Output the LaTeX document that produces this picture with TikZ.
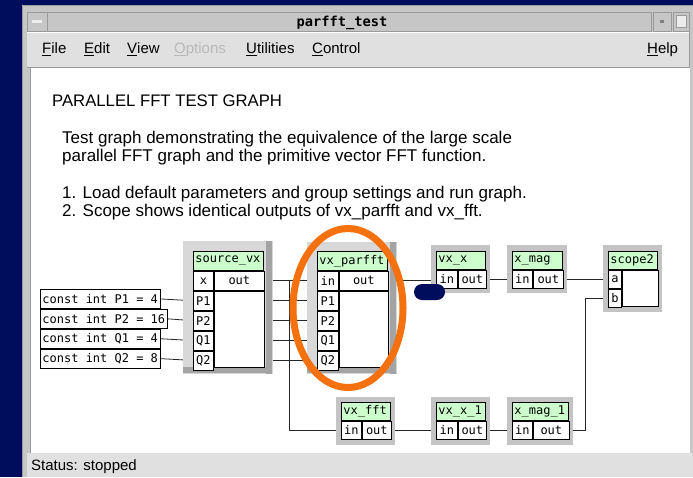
\documentclass[tikz,border=0pt]{standalone}
\usepackage{fontspec}
\setmainfont{Liberation Sans}
\newfontfamily\monofont{DejaVu Sans Mono}
\protected\def\cellfont{\monofont\fontsize{12}{12}\selectfont}
\usetikzlibrary{positioning}
\pgfdeclarelayer{desk}
\pgfdeclarelayer{background}
\pgfsetlayers{desk,background,main}

\definecolor{deskblue}{HTML}{000C5C}
\definecolor{wingray}{HTML}{E0E0E0}
\definecolor{bargray}{HTML}{C6C6C6}
\definecolor{edgegray}{HTML}{9A9A9A}
\definecolor{boxgreen}{HTML}{CCFFCC}
\definecolor{framelight}{HTML}{D8D8D8}
\definecolor{framedark}{HTML}{A4A4A4}
\definecolor{framemid}{HTML}{C4C4C4}
\definecolor{ringorange}{HTML}{F5700F}

\tikzset{
  blockframe/.style={fill=framemid, inner sep=0pt, anchor=north west},
  bevelframe/.style={fill=framelight, inner sep=0pt, anchor=north west, path picture={
      \fill[framedark] ([xshift=-7pt]path picture bounding box.north east) rectangle ([xshift=-1.5pt]path picture bounding box.south east);
      \fill[framedark] ([yshift=7pt]path picture bounding box.south west) rectangle ([xshift=-1.5pt, yshift=1.5pt]path picture bounding box.south east);}},
  cell/.style={draw=black, fill=white, line width=0.9pt, inner sep=0pt, anchor=north west,
      font=\cellfont, minimum height=19pt, execute at begin node={\spaceskip=7.2pt\relax}},
  small/.style={minimum height=18pt},
  boxtitle/.style={cell, fill=boxgreen, align=left, inner xsep=2pt},
  constbox/.style={cell, align=left, inner xsep=2pt},
  wire/.style={draw=black!85, line width=0.8pt},
  menu/.style={anchor=base west, inner sep=0pt, font=\fontsize{15}{15}\selectfont},
  notetext/.style={anchor=base west, inner sep=0pt, font=\fontsize{17}{17}\selectfont}
}

\begin{document}
\begin{tikzpicture}[x=1pt, y=-1pt]
    \useasboundingbox (0,0) rectangle (693,477);

    \begin{pgfonlayer}{desk}
    % Desktop and window
    \fill[deskblue] (0,0) rectangle (693,477);
    \fill[bargray] (22,5) rectangle (693,477);
    \draw[edgegray] (22.5,5.5) -- (693,5.5);
    \draw[edgegray] (22.5,5.5) -- (22.5,477);

    % Title bar
    \draw[edgegray, fill=bargray] (27,12) rectangle (47,31);
    \fill[white!85!gray] (32,20) rectangle (42,23);
    \draw[edgegray, fill=bargray] (47,12) rectangle (651,31);
    \draw[edgegray, fill=bargray] (653,12) rectangle (671,31);
    \fill[gray] (660,20) rectangle (664,23);
    \draw[edgegray, fill=bargray] (673,12) rectangle (689,31);
    \draw[edgegray, fill=white!85!gray] (676,15) rectangle (686,27);

    % Menu bar
    \fill[wingray] (27,32) rectangle (690,67);
    \draw[white] (27,32.5) -- (690,32.5);
    \draw[edgegray] (689.5,32) -- (689.5,67) -- (27,67);

    % Canvas
    \fill[white] (30,68) rectangle (690,453);
    \draw[edgegray] (30,68) -- (30,453);
    \draw[gray!40, dotted] (690,68) -- (690,453);

    % Status bar
    \fill[wingray] (27,453) rectangle (693,477);
    \end{pgfonlayer}

    % Window texts
    \node[inner sep=0pt, anchor=base, font=\monofont\bfseries\fontsize{13.7}{13.7}\selectfont] (wintitle) at (342,26) {parfft\_test};
    \node[menu] (m-file) at (42,53.5) {\underline{F}ile};
    \node[menu] (m-edit) at (84,53.5) {\underline{E}dit};
    \node[menu] (m-view) at (127,53.5) {\underline{V}iew};
    \node[menu, text=gray!55] (m-options) at (174,53.5) {\underline{O}ptions};
    \node[menu] (m-utils) at (246,53.5) {\underline{U}tilities};
    \node[menu] (m-control) at (312,53.5) {\underline{C}ontrol};
    \node[menu] (m-help) at (647,53.5) {\underline{H}elp};
    \node[menu] (status) at (31,470) {Status: stopped};

    % Description
    \node[notetext, font=\fontsize{16.7}{16.7}\selectfont] (heading) at (52,106) {PARALLEL FFT TEST GRAPH};
    \node[notetext] (line1) at (62,143.5) {Test graph demonstrating the equivalence of the large scale};
    \node[notetext] (line2) at (62,161.5) {parallel FFT graph and the primitive vector FFT function.};
    \node[notetext] (line3) at (62,198.5) {1. Load default parameters and group settings and run graph.};
    \node[notetext] (line4) at (62,216.5) {2. Scope shows identical outputs of vx\_parfft and vx\_fft.};

    % Constants
    \node[constbox, text width=116pt] (cP1) at (40,289) {const int P1 = 4};
    \node[constbox, text width=123pt] (cP2) at (cP1.south west) {const int P2 = 16};
    \node[constbox, text width=116pt] (cQ1) at (cP2.south west) {const int Q1 = 4};
    \node[constbox, text width=116pt] (cQ2) at (cQ1.south west) {const int Q2 = 8};

    % source_vx
    \node[bevelframe, minimum width=90pt, minimum height=133pt] (src-f) at (183,241) {};
    \node[boxtitle, text width=66pt] (src-t) at (193,251) {source\_vx};
    \node[cell, minimum width=20pt] (src-x) at (src-t.south west) {x};
    \node[cell, minimum width=50pt] (src-out) at (src-x.north east) {out};
    \node[cell, minimum width=20pt] (src-P1) at (src-x.south west) {P1};
    \node[cell, minimum width=20pt] (src-P2) at (src-P1.south west) {P2};
    \node[cell, minimum width=20pt] (src-Q1) at (src-P2.south west) {Q1};
    \node[cell, minimum width=20pt] (src-Q2) at (src-Q1.south west) {Q2};
    \node[cell, minimum width=50pt, minimum height=76pt] (src-body) at (src-P1.north east) {};

    % vx_parfft
    \node[bevelframe, minimum width=90pt, minimum height=132pt] (par-f) at (307,242) {};
    \node[boxtitle, text width=66pt] (par-t) at (317,251) {vx\_parfft};
    \node[cell, minimum width=21pt] (par-in) at (par-t.south west) {in};
    \node[cell, minimum width=49pt] (par-out) at (par-in.north east) {out};
    \node[cell, minimum width=21pt] (par-P1) at (par-in.south west) {P1};
    \node[cell, minimum width=21pt] (par-P2) at (par-P1.south west) {P2};
    \node[cell, minimum width=21pt] (par-Q1) at (par-P2.south west) {Q1};
    \node[cell, minimum width=21pt] (par-Q2) at (par-Q1.south west) {Q2};
    \node[cell, minimum width=49pt, minimum height=76pt] (par-body) at (par-P1.north east) {};

    % vx_x
    \node[blockframe, minimum width=59pt, minimum height=48pt] (vxx-f) at (431,245) {};
    \node[boxtitle, small, text width=45pt] (vxx-t) at (436,251) {vx\_x};
    \node[cell, small, minimum width=21pt] (vxx-in) at (vxx-t.south west) {in};
    \node[cell, small, minimum width=28pt] (vxx-out) at (vxx-in.north east) {out};

    % x_mag
    \node[blockframe, minimum width=60pt, minimum height=48pt] (mag-f) at (507,245) {};
    \node[boxtitle, small, text width=46pt] (mag-t) at (512,251) {x\_mag};
    \node[cell, small, minimum width=20pt] (mag-in) at (mag-t.south west) {in};
    \node[cell, small, minimum width=30pt] (mag-out) at (mag-in.north east) {out};

    % scope2
    \node[blockframe, minimum width=59pt, minimum height=67pt] (scope-f) at (603,245) {};
    \node[boxtitle, small, text width=45pt] (scope-t) at (608,251) {scope2};
    \node[cell, small, minimum width=13pt] (scope-a) at (scope-t.south west) {a};
    \node[cell, small, minimum width=13pt] (scope-b) at (scope-a.south west) {b};
    \node[cell, minimum width=36pt, minimum height=36pt] (scope-body) at (scope-a.north east) {};

    % vx_fft
    \node[blockframe, minimum width=59pt, minimum height=48pt] (fft-f) at (336,397) {};
    \node[boxtitle, small, text width=45pt] (fft-t) at (341,402) {vx\_fft};
    \node[cell, small, minimum width=20pt] (fft-in) at (fft-t.south west) {in};
    \node[cell, small, minimum width=29pt] (fft-out) at (fft-in.north east) {out};

    % vx_x_1
    \node[blockframe, minimum width=59pt, minimum height=48pt] (vxx1-f) at (431,397) {};
    \node[boxtitle, small, text width=45pt] (vxx1-t) at (436,402) {vx\_x\_1};
    \node[cell, small, minimum width=21pt] (vxx1-in) at (vxx1-t.south west) {in};
    \node[cell, small, minimum width=28pt] (vxx1-out) at (vxx1-in.north east) {out};

    % x_mag_1
    \node[blockframe, minimum width=66pt, minimum height=48pt] (mag1-f) at (507,397) {};
    \node[boxtitle, small, text width=52pt] (mag1-t) at (512,402) {x\_mag\_1};
    \node[cell, small, minimum width=20pt] (mag1-in) at (mag1-t.south west) {in};
    \node[cell, small, minimum width=36pt] (mag1-out) at (mag1-in.north east) {out};

    % Wires
    \coordinate (branch) at (289,280);
    \begin{pgfonlayer}{background}
        \draw[wire] (cP1.east) -- (src-P1.west);
        \draw[wire] (cP2.east) -- (src-P2.west);
        \draw[wire] (cQ1.east) -- (src-Q1.west);
        \draw[wire] (cQ2.east) -- (src-Q2.west);
        \draw[wire] (src-out.east) -- (par-in.west);
        \draw[wire] (src-P1 -| src-body.east) -- (par-P1.west);
        \draw[wire] (src-P2 -| src-body.east) -- (par-P2.west);
        \draw[wire] (src-Q1 -| src-body.east) -- (par-Q1.west);
        \draw[wire] (src-Q2 -| src-body.east) -- (par-Q2.west);
        \draw[wire] (src-out.east -| branch) |- (fft-in.west);
        \draw[wire] (par-out.east) -- (par-out.east -| vxx-in.west);
        \draw[wire] (vxx-out.east) -- (mag-in.west);
        \draw[wire] (mag-out.east) -- (scope-a.west);
        \draw[wire] (fft-out.east) -- (vxx1-in.west);
        \draw[wire] (vxx1-out.east) -- (mag1-in.west);
        \draw[wire] (mag1-out.east) -- ++(16,0) |- (scope-b.west);
    \end{pgfonlayer}

    % Highlight
    \draw[ringorange, line width=7pt] (348,308) ellipse [x radius=55, y radius=79.5];
    \fill[deskblue, rounded corners=8pt] (414,284) rectangle (445,300);
\end{tikzpicture}
\end{document}
